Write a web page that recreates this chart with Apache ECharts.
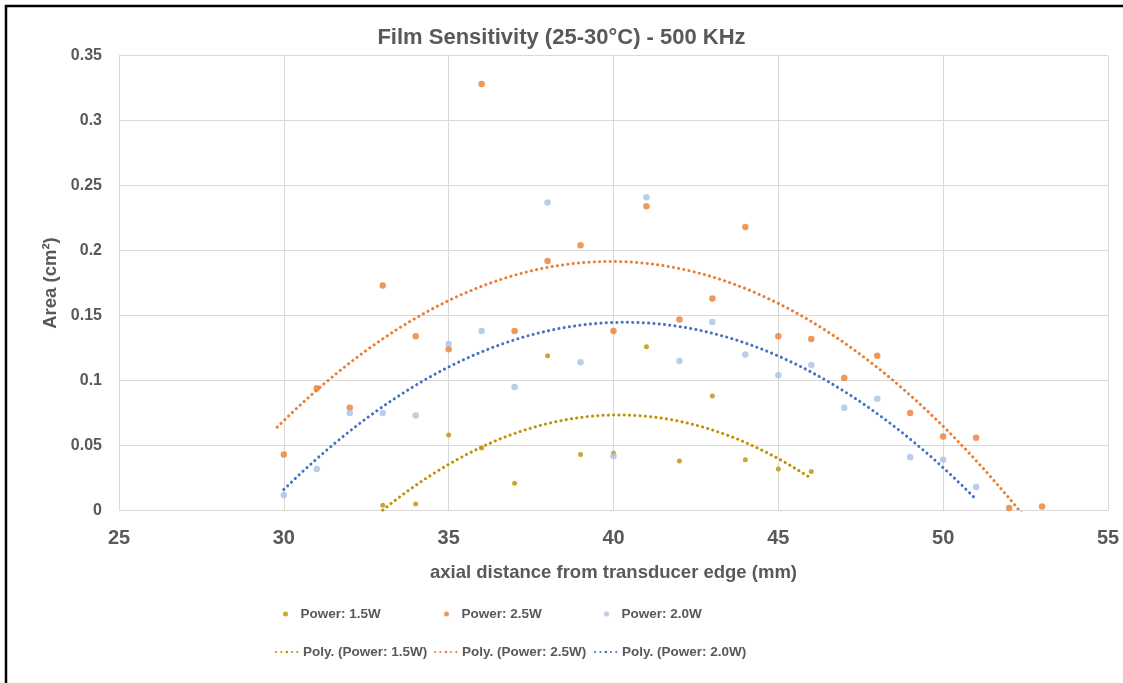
<!DOCTYPE html>
<html>
<head>
<meta charset="utf-8">
<script src="https://cdn.jsdelivr.net/npm/echarts@6/dist/echarts.min.js"></script>
<style>
html,body{margin:0;padding:0;background:#fff;}
#chart{width:1123px;height:683px;}
</style>
</head>
<body>
<div id="chart"></div>
<script>
// ---- data ----
const xPower15 = [33,34,35,36,37,38,39,40,41,42,43,44,45,46];
const yPower15 = [0.004,0.005,0.058,0.048,0.021,0.119,0.043,0.044,0.126,0.038,0.088,0.039,0.032,0.030];
const xPower25 = [30,31,32,33,34,35,36,37,38,39,40,41,42,43,44,45,46,47,48,49,50,51,52,53];
const yPower25 = [0.043,0.094,0.079,0.173,0.134,0.124,0.328,0.138,0.192,0.204,0.138,0.234,0.147,0.163,0.218,0.134,0.132,0.102,0.119,0.075,0.057,0.056,0.002,0.003];
const xPower20 = [30,31,32,33,34,35,36,37,38,39,40,41,42,43,44,45,46,47,48,49,50,51];
const yPower20 = [0.012,0.032,0.075,0.075,0.073,0.128,0.138,0.095,0.237,0.114,0.042,0.241,0.115,0.145,0.120,0.104,0.112,0.079,0.086,0.041,0.039,0.018];
const seriesNames = ['Power: 1.5W','Power: 2.5W','Power: 2.0W'];
const trendNames = ['Poly. (Power: 1.5W)','Poly. (Power: 2.5W)','Poly. (Power: 2.0W)'];
const xTicks = [25,30,35,40,45,50,55];
const yTicks = [0,0.05,0.1,0.15,0.2,0.25,0.3,0.35];

// ---- quadratic least squares (Excel polynomial trendline, order 2) ----
function polyFit2(xs, ys){
  let n=xs.length,s1=0,s2=0,s3=0,s4=0,t0=0,t1=0,t2=0;
  for(let i=0;i<n;i++){const x=xs[i],y=ys[i];s1+=x;s2+=x*x;s3+=x*x*x;s4+=x*x*x*x;t0+=y;t1+=x*y;t2+=x*x*y;}
  const A=[[n,s1,s2,t0],[s1,s2,s3,t1],[s2,s3,s4,t2]];
  for(let c=0;c<3;c++){
    for(let r=c+1;r<3;r++){const f=A[r][c]/A[c][c];for(let k=c;k<4;k++)A[r][k]-=f*A[c][k];}
  }
  const b=[0,0,0];
  for(let r=2;r>=0;r--){let s=A[r][3];for(let k=r+1;k<3;k++)s-=A[r][k]*b[k];b[r]=s/A[r][r];}
  return b;
}
function trendPoints(xs, ys, back){
  const b=polyFit2(xs,ys);
  const x0=Math.min(...xs)-(back||0), x1=Math.max(...xs);
  const pts=[];const N=300;
  for(let i=0;i<=N;i++){const x=x0+(x1-x0)*i/N;const y=b[0]+b[1]*x+b[2]*x*x;pts.push([x,y]);}
  return pts;
}
const zip=(xs,ys)=>xs.map((x,i)=>[x,ys[i]]);

const cGold='#BF9000', cOrange='#ED7D31', cLight='#A9C0E6', cBlue='#4472C4';
const font='"Liberation Sans", Arial, sans-serif';
const gray='#595959';
const dots={type:[0.1,5.2],cap:'round',width:3};

const chart=echarts.init(document.getElementById('chart'),null,{renderer:'canvas'});
function leg(name,left,top,w,h){
  return {data:[name],left:left,top:top,itemWidth:w,itemHeight:h,padding:0,
    textStyle:{fontFamily:font,fontSize:13.5,fontWeight:'bold',color:gray},selectedMode:false};
}
chart.setOption({
  animation:false,
  backgroundColor:'#fff',
  graphic:[{type:'rect',shape:{x:6,y:6,width:1300,height:900},style:{fill:'none',stroke:'#000',lineWidth:2.5},silent:true}],
  title:{text:'Film Sensitivity (25-30°C) - 500 KHz',left:'center',top:22,
    textStyle:{fontFamily:font,fontSize:22,fontWeight:'bold',color:gray}},
  grid:{left:119,right:15,top:55.5,bottom:172.5},
  legend:[
    leg(seriesNames[0],283,607,20,5),
    leg(seriesNames[1],444,607,20,5),
    leg(seriesNames[2],604,607,20,5),
    leg(trendNames[0],275,645,22,3),
    leg(trendNames[1],434,645,22,3),
    leg(trendNames[2],594,645,22,3)
  ],
  xAxis:{type:'value',min:xTicks[0],max:xTicks[xTicks.length-1],interval:5,
    name:'axial distance from transducer edge (mm)',nameLocation:'middle',nameGap:53,
    nameTextStyle:{fontFamily:font,fontSize:18.5,fontWeight:'bold',color:gray},
    axisLine:{lineStyle:{color:'#D9D9D9'}},axisTick:{show:false},
    axisLabel:{fontFamily:font,fontSize:20,fontWeight:'bold',color:gray,margin:18},
    splitLine:{lineStyle:{color:'#D9D9D9'}}},
  yAxis:{type:'value',min:yTicks[0],max:yTicks[yTicks.length-1],interval:0.05,
    name:'Area (cm²)',nameLocation:'middle',nameGap:44,nameRotate:90,
    nameTextStyle:{fontFamily:font,fontSize:18.5,fontWeight:'bold',color:gray},
    axisLine:{show:false},axisTick:{show:false},
    axisLabel:{fontFamily:font,fontSize:16,fontWeight:'bold',color:gray,margin:17},
    splitLine:{lineStyle:{color:'#D9D9D9'}}},
  series:[
    {name:seriesNames[0],type:'scatter',data:zip(xPower15,yPower15),symbolSize:5,itemStyle:{color:cGold}},
    {name:seriesNames[1],type:'scatter',data:zip(xPower25,yPower25),symbolSize:6.5,itemStyle:{color:cOrange}},
    {name:seriesNames[2],type:'scatter',data:zip(xPower20,yPower20),symbolSize:6.5,itemStyle:{color:cLight}},
    {name:trendNames[0],type:'line',data:trendPoints(xPower15,yPower15,0),showSymbol:false,symbol:'none',clip:true,lineStyle:Object.assign({color:cGold},dots),itemStyle:{color:cGold},z:3},
    {name:trendNames[1],type:'line',data:trendPoints(xPower25,yPower25,0.2),showSymbol:false,symbol:'none',clip:true,lineStyle:Object.assign({color:cOrange},dots),itemStyle:{color:cOrange},z:3},
    {name:trendNames[2],type:'line',data:trendPoints(xPower20,yPower20,0),showSymbol:false,symbol:'none',clip:true,lineStyle:Object.assign({color:cBlue},dots),itemStyle:{color:cBlue},z:3}
  ]
});
</script>
</body>
</html>
